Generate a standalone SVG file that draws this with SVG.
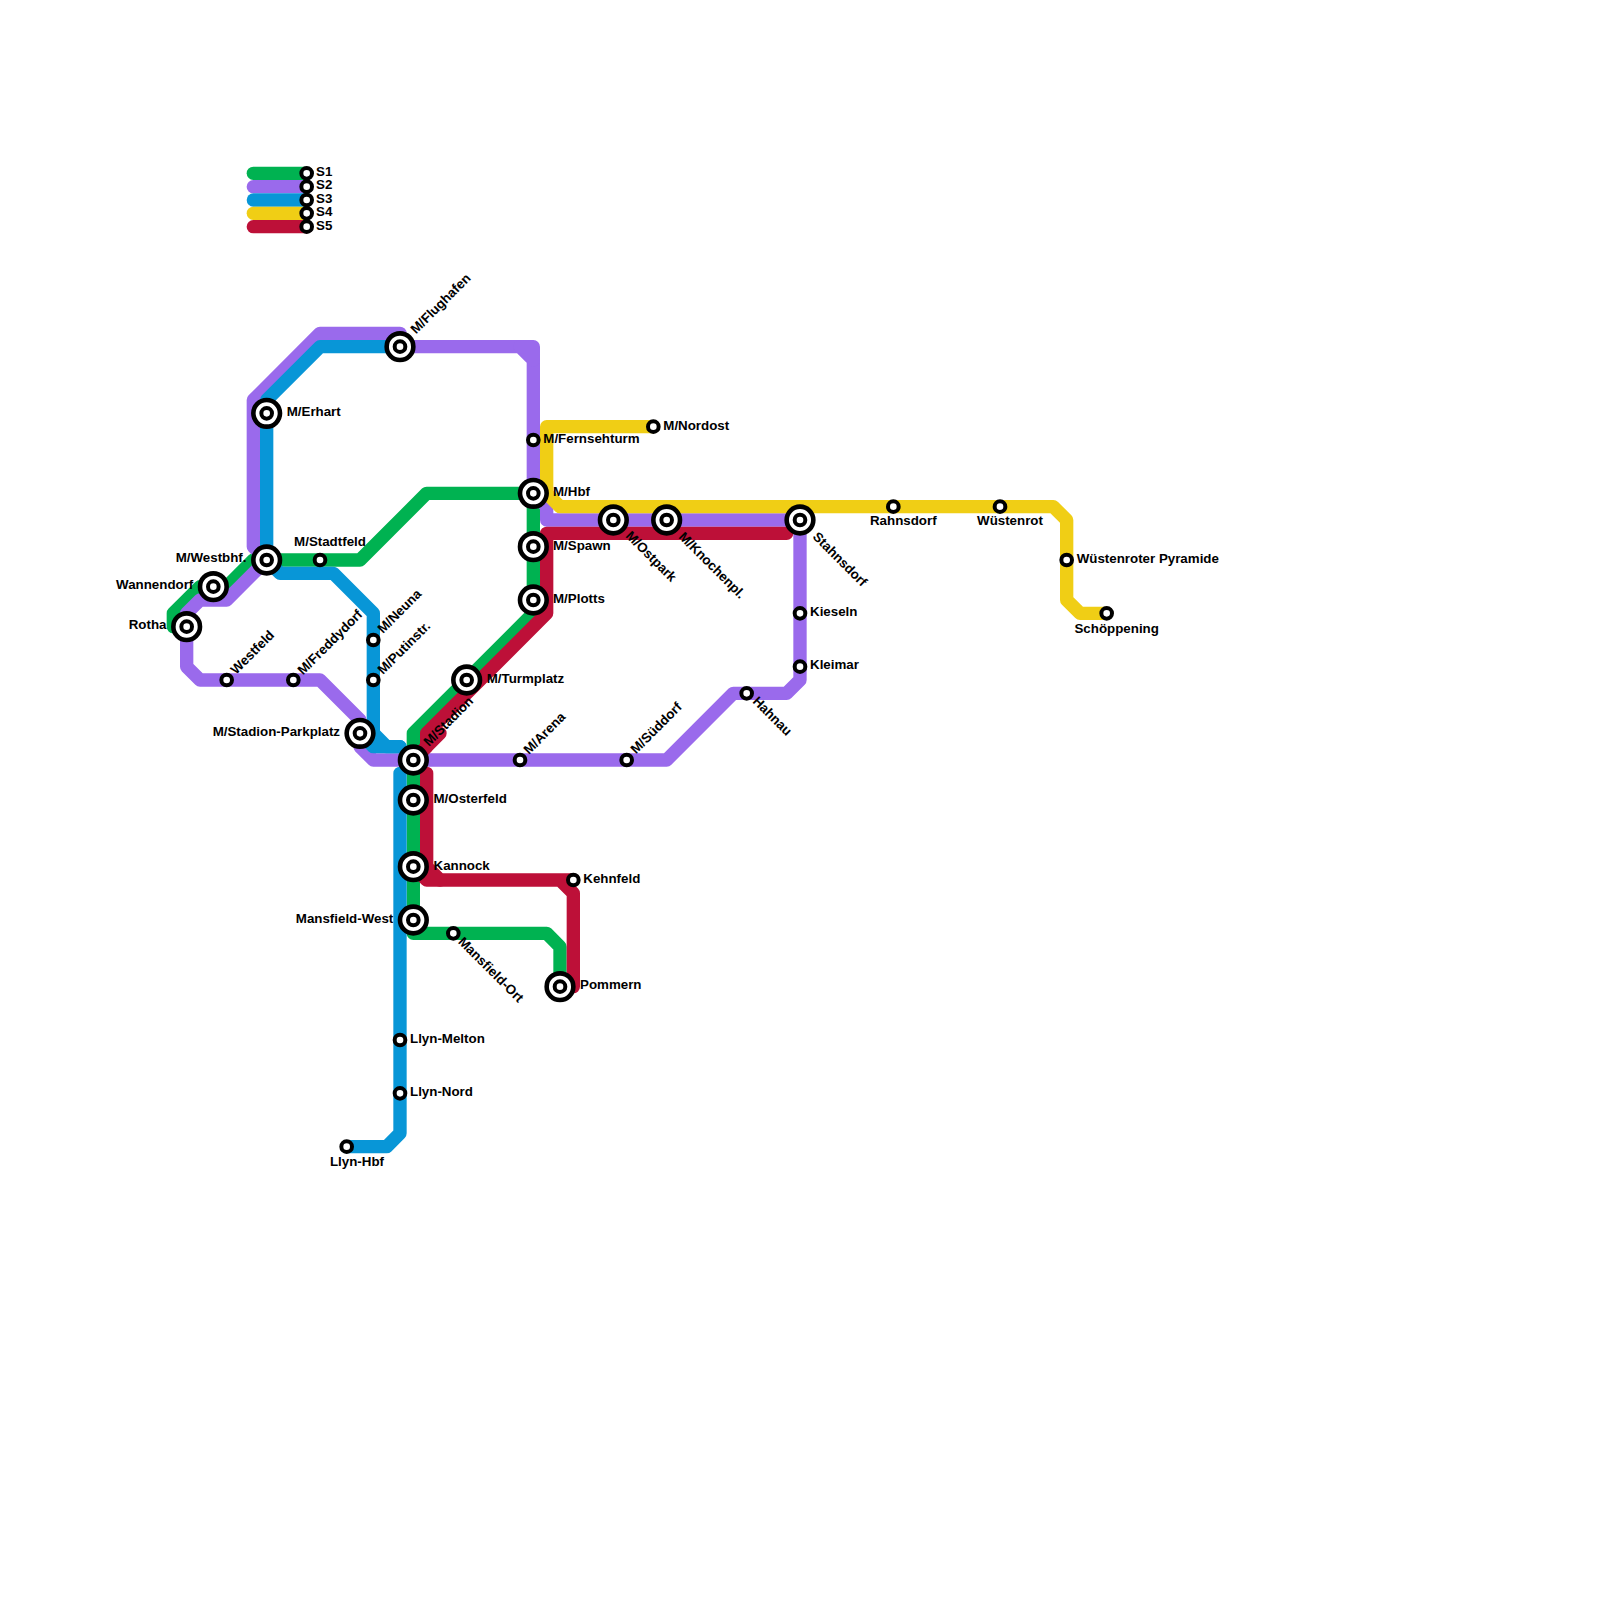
<svg xmlns="http://www.w3.org/2000/svg" width="1600" height="1600" viewBox="0 0 1600 1600">
<style>
.l{fill:none;stroke-width:13.33;stroke-linecap:round;stroke-linejoin:round}
.s1{stroke:#00b251}.s2{stroke:#9a6aec}.s3{stroke:#0896d7}.s4{stroke:#f0ce15}.s5{stroke:#bd1038}
.o{fill:#fff;stroke:#000;stroke-width:4.6}
.i{fill:#fff;stroke:#000;stroke-width:4}
text{font-family:"Liberation Sans",Arial,sans-serif;font-weight:700;font-size:13.33px;fill:#000}
.e{text-anchor:end}.m{text-anchor:middle}
</style>
<defs>
<g id="big"><circle class="o" r="13.33"/><circle class="i" r="5.33"/></g>
<circle id="small" class="i" r="5.33"/>
</defs>
<g id="connectors">
<path class="l s1" d="M253.33 173.33H306.67"/>
<path class="l s2" d="M253.33 186.67H306.67"/>
<path class="l s3" d="M253.33 200H306.67"/>
<path class="l s4" d="M253.33 213.33H306.67"/>
<path class="l s5" d="M253.33 226.67H306.67"/>
<path class="l s1" d="M560 986.67V946.67L546.67 933.33H413.33V733.33L533.33 613.33V493.33H426.67L360 560H266.67"/>
<path class="l s1" d="M266.67 560H253.33L226.67 586.67H200L173.33 613.33V626.67H186.67"/>
<path class="l s2" d="M266.67 560L226.67 600H200L186.67 613.33V666.67L200 680H320L360 720V746.67L373.33 760H666.67L733.33 693.33H786.67L800 680V520H546.67V506.67L533.33 493.33V360L520 346.67H400"/>
<path class="l s2" d="M520 346.67H533.33V360"/>
<path class="l s2" d="M400 333.33H320L253.33 400V546.67L266.67 560"/>
<path class="l s3" d="M400 346.67H320L266.67 400V560L280 573.33H333.33L373.33 613.33V733.33L386.67 746.67H400"/>
<path class="l s3" d="M360 733.33L373.33 746.67H400"/>
<path class="l s3" d="M400 773.33V1133.33L386.67 1146.67H346.67"/>
<path class="l s4" d="M653.33 426.67H546.67V493.33L560 506.67H1053.33L1066.67 520V600L1080 613.33H1106.67"/>
<path class="l s5" d="M786.67 533.33H546.67V613.33L426.67 733.33V746.67L413.33 760"/>
<path class="l s5" d="M440 733.33L413.33 760"/>
<path class="l s5" d="M426.67 773.33V866.67L440 880H573.33M560 880L573.33 893.33V986.67H560"/>
<path class="l s5" d="M413.33 866.67L426.67 880H440"/>
</g>
<g id="legend-s1"><use href="#small" x="306.67" y="173.33"/><text x="316" y="176">S1</text></g>
<g id="legend-s2"><use href="#small" x="306.67" y="186.67"/><text x="316" y="189">S2</text></g>
<g id="legend-s3"><use href="#small" x="306.67" y="200"/><text x="316" y="202.5">S3</text></g>
<g id="legend-s4"><use href="#small" x="306.67" y="213.33"/><text x="316" y="216">S4</text></g>
<g id="legend-s5"><use href="#small" x="306.67" y="226.67"/><text x="316" y="229.5">S5</text></g>
<g id="flughafen"><use href="#big" x="400" y="346.67"/><text transform="translate(416 334.5) rotate(-45)">M/Flughafen</text></g>
<g id="erhart"><use href="#big" x="266.67" y="413.33"/><text x="286.7" y="416">M/Erhart</text></g>
<g id="westbhf"><use href="#big" x="266.67" y="560"/><text class="e" x="246.5" y="562">M/Westbhf.</text></g>
<g id="wannendorf"><use href="#big" x="213.33" y="586.67"/><text class="e" x="193.3" y="589">Wannendorf</text></g>
<g id="rotha"><use href="#big" x="186.67" y="626.67"/><text class="e" x="166.5" y="629">Rotha</text></g>
<g id="westfeld"><use href="#small" x="226.67" y="680"/><text transform="translate(236 675) rotate(-45)">Westfeld</text></g>
<g id="freddydorf"><use href="#small" x="293.33" y="680"/><text transform="translate(303 675.5) rotate(-45)">M/Freddydorf</text></g>
<g id="stadtfeld"><use href="#small" x="320" y="560"/><text class="m" x="330" y="545.5">M/Stadtfeld</text></g>
<g id="neuna"><use href="#small" x="373.33" y="640"/><text transform="translate(383 634) rotate(-45)">M/Neuna</text></g>
<g id="putinstr"><use href="#small" x="373.33" y="680"/><text transform="translate(383 675) rotate(-45)">M/Putinstr.</text></g>
<g id="stadion-parkplatz"><use href="#big" x="360" y="733.33"/><text class="e" x="340" y="735.5">M/Stadion-Parkplatz</text></g>
<g id="stadion"><use href="#big" x="413.33" y="760"/><text transform="translate(429 747) rotate(-45)">M/Stadion</text></g>
<g id="osterfeld"><use href="#big" x="413.33" y="800"/><text x="433.5" y="802.5">M/Osterfeld</text></g>
<g id="kannock"><use href="#big" x="413.33" y="866.67"/><text x="433.5" y="870">Kannock</text></g>
<g id="mansfield-west"><use href="#big" x="413.33" y="920"/><text class="e" x="393.3" y="922.5">Mansfield-West</text></g>
<g id="mansfield-ort"><use href="#small" x="453.33" y="933.33"/><text transform="translate(457.5 942.5) rotate(45)">Mansfield-Ort</text></g>
<g id="pommern"><use href="#big" x="560" y="986.67"/><text x="580" y="989">Pommern</text></g>
<g id="kehnfeld"><use href="#small" x="573.33" y="880"/><text x="583.3" y="882.5">Kehnfeld</text></g>
<g id="llyn-melton"><use href="#small" x="400" y="1040"/><text x="410" y="1042.5">Llyn-Melton</text></g>
<g id="llyn-nord"><use href="#small" x="400" y="1093.33"/><text x="410" y="1095.5">Llyn-Nord</text></g>
<g id="llyn-hbf"><use href="#small" x="346.67" y="1146.67"/><text class="m" x="357" y="1165.5">Llyn-Hbf</text></g>
<g id="turmplatz"><use href="#big" x="466.67" y="680"/><text x="486.7" y="682.5">M/Turmplatz</text></g>
<g id="arena"><use href="#small" x="520" y="760"/><text transform="translate(529 755) rotate(-45)">M/Arena</text></g>
<g id="suedorf"><use href="#small" x="626.67" y="760"/><text transform="translate(636 754.5) rotate(-45)">M/Süddorf</text></g>
<g id="hahnau"><use href="#small" x="746.67" y="693.33"/><text transform="translate(752 702) rotate(45)">Hahnau</text></g>
<g id="hbf"><use href="#big" x="533.33" y="493.33"/><text x="553" y="495.5">M/Hbf</text></g>
<g id="spawn"><use href="#big" x="533.33" y="546.67"/><text x="553" y="550">M/Spawn</text></g>
<g id="plotts"><use href="#big" x="533.33" y="600"/><text x="553" y="602.5">M/Plotts</text></g>
<g id="fernsehturm"><use href="#small" x="533.33" y="440"/><text x="543.3" y="443">M/Fernsehturm</text></g>
<g id="nordost"><use href="#small" x="653.33" y="426.67"/><text x="663.3" y="430">M/Nordost</text></g>
<g id="ostpark"><use href="#big" x="613.33" y="520"/><text transform="translate(625 536.5) rotate(45)">M/Ostpark</text></g>
<g id="knochenpl"><use href="#big" x="666.67" y="520"/><text transform="translate(678 537.5) rotate(45)">M/Knochenpl.</text></g>
<g id="stahnsdorf"><use href="#big" x="800" y="520"/><text transform="translate(812 537.5) rotate(45)">Stahnsdorf</text></g>
<g id="kieseln"><use href="#small" x="800" y="613.33"/><text x="810" y="615.5">Kieseln</text></g>
<g id="kleimar"><use href="#small" x="800" y="666.67"/><text x="810" y="669">Kleimar</text></g>
<g id="rahnsdorf"><use href="#small" x="893.33" y="506.67"/><text class="m" x="903.3" y="525">Rahnsdorf</text></g>
<g id="wuestenrot"><use href="#small" x="1000" y="506.67"/><text class="m" x="1010" y="525">Wüstenrot</text></g>
<g id="pyramide"><use href="#small" x="1066.67" y="560"/><text x="1076.7" y="562.5">Wüstenroter Pyramide</text></g>
<g id="schoeppening"><use href="#small" x="1106.67" y="613.33"/><text class="m" x="1116.7" y="633">Schöppening</text></g>
</svg>
